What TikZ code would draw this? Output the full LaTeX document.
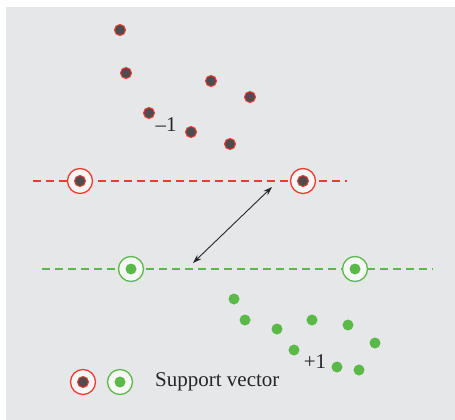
\documentclass[tikz,border=0pt]{standalone}
\usepackage{fontspec}
\setmainfont{Liberation Serif}
\usetikzlibrary{arrows.meta}
\definecolor{bggray}{HTML}{E6E7E9}
\definecolor{svred}{HTML}{EE3B2E}
\definecolor{dotgray}{HTML}{4D4D4F}
\definecolor{svgreen}{HTML}{5BB947}
\definecolor{ringfill}{HTML}{F7F7F8}
\tikzset{
  negdot/.style={circle, draw=svred, fill=dotgray, line width=1pt, inner sep=0pt, minimum size=11pt},
  posdot/.style={circle, fill=svgreen, inner sep=0pt, minimum size=11pt},
  negring/.style={circle, draw=svred, fill=ringfill, line width=1.3pt, inner sep=0pt, minimum size=25pt},
  posring/.style={circle, draw=svgreen, fill=ringfill, line width=1.3pt, inner sep=0pt, minimum size=25pt},
  margin/.style={line width=1.2pt, dash pattern=on 8pt off 5pt}
}
\begin{document}
\begin{tikzpicture}[x=1pt,y=-1pt]
\useasboundingbox (0,0) rectangle (455,420);
\fill[bggray] (6,7) rectangle (455,420);
% margins
\coordinate (nl) at (33,181);
\coordinate (nr) at (347,181);
\coordinate (pl) at (42,269);
\coordinate (pr) at (433,269);
\draw[margin, svred] (nl)--(nr);
\draw[margin, svgreen] (pl)--(pr);
% class -1
\foreach \x/\y [count=\i] in {120/30,126/73,211/81,250/97,149/113,191/132,230/144}
  \node[negdot] (n\i) at (\x,\y) {};
\node[font=\fontsize{21}{24}\selectfont, text=black!85] (lneg) at (166,125) {–1};
% class +1
\foreach \x/\y [count=\i] in {234/299,245/320,277/329,312/320,348/325,375/343,294/350,337/367,359/370}
  \node[posdot] (p\i) at (\x,\y) {};
\node[font=\fontsize{21}{24}\selectfont, text=black!85] (lpos) at (315,362) {+1};
% support vectors
\node[negring] (sv1) at (80,181) {};
\node[negdot] at (sv1) {};
\node[negring] (sv2) at (303,181) {};
\node[negdot] at (sv2) {};
\node[posring] (sv3) at (131,269) {};
\node[posdot] at (sv3) {};
\node[posring] (sv4) at (355,269) {};
\node[posdot] at (sv4) {};
% margin width
\coordinate (a) at (272,187);
\coordinate (b) at (193,263);
\draw[{Stealth[length=9pt,width=6pt]}-{Stealth[length=9pt,width=6pt]}, line width=0.9pt, black!85] (a)--(b);
% legend
\node[negring] (k1) at (83,382) {};
\node[negdot] at (k1) {};
\node[posring] (k2) at (120,382) {};
\node[posdot] at (k2) {};
\node[anchor=west, inner sep=0pt, font=\fontsize{21}{25}\selectfont, text=black!85] (ltext) at (155,382) {Support vector};
\end{tikzpicture}
\end{document}
